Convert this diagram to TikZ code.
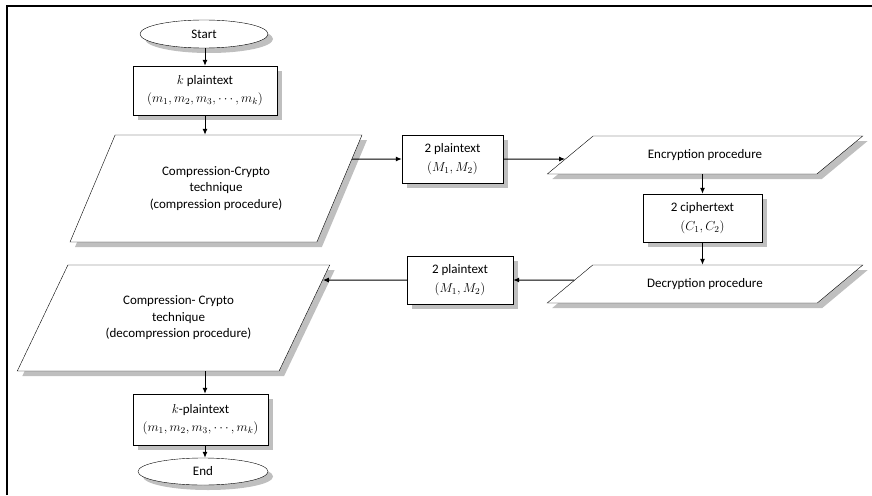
\RequirePackage{fix-cm}
\documentclass[tikz,border=0pt]{standalone}
\usepackage{fontspec}
\setmainfont{Carlito}
\usetikzlibrary{shapes.geometric,shadows,arrows.meta}
\begin{document}
\begin{tikzpicture}[x=1pt,y=-1pt,
  font=\fontsize{13}{16.5}\selectfont,
  shad/.style={drop shadow={shadow xshift=5pt,shadow yshift=-5pt,fill=black!25,opacity=1}},
  term/.style={ellipse,draw,fill=white,shad,inner sep=0pt},
  datbox/.style={rectangle,draw,fill=white,shad,align=center,inner sep=0pt},
  proc/.style={trapezium,trapezium stretches=true,draw,fill=white,shad,align=center,inner sep=0pt},
  arr/.style={-{Latex[length=6pt,width=5pt]},line width=1pt}]
\useasboundingbox (0,0) rectangle (872,495);
% page frame
\draw[line width=2pt] (7,495) -- (7,6) -- (872,6);

% left column: compression
\node[term, minimum width=128pt, minimum height=28pt] (start) at (204,34) {Start};
\node[datbox, minimum width=144pt, minimum height=49pt] (kpt) at (205,90.5)
  {$k$ plaintext\\[2pt]$(m_1,m_2,m_3,\cdots,m_k)$};
\node[proc, trapezium left angle=56.1, trapezium right angle=123.9,
  minimum width=292pt, minimum height=107pt] (comp) at (216,188.5)
  {Compression-Crypto\\technique\\(compression procedure)};

% middle and right: encryption / decryption
\node[datbox, minimum width=101pt, minimum height=48pt] (pta) at (452.5,159)
  {2 plaintext\\[2pt]$(M_1,M_2)$};
\node[proc, trapezium left angle=25.4, trapezium right angle=154.6,
  minimum width=316pt, minimum height=38pt] (enc) at (705,155)
  {Encryption procedure};
\node[datbox, minimum width=119pt, minimum height=48pt] (ct) at (702.5,218)
  {2 ciphertext\\[2pt]$(C_1,C_2)$};
\node[proc, trapezium left angle=25.4, trapezium right angle=154.6,
  minimum width=316pt, minimum height=38pt] (dec) at (705,284)
  {Decryption procedure};
\node[datbox, minimum width=106pt, minimum height=48pt] (ptb) at (460,280)
  {2 plaintext\\[2pt]$(M_1,M_2)$};

% left column: decompression (its text block sits a little right of centre)
\node[proc, trapezium left angle=53, trapezium right angle=127,
  minimum width=313pt, minimum height=106pt] (decomp) at (173.5,318)
  {\hspace*{10pt}\begin{tabular}{@{}c@{}}Compression- Crypto\\technique\\(decompression procedure)\end{tabular}};
\node[datbox, minimum width=135pt, minimum height=51pt] (kptb) at (200.5,419.5)
  {$k$-plaintext\\[2pt]$(m_1,m_2,m_3,\cdots,m_k)$};
\node[term, minimum width=130pt, minimum height=27pt] (end) at (203,471.5) {End};

% connectors
\draw[arr] (start.south -| 205,0) -- (kpt.north -| 205,0);
\draw[arr] (kpt.south -| 205,0) -- (comp.north -| 205,0);
\draw[arr] (intersection of comp.top right corner--comp.bottom right corner and pta.west--pta.east) -- (pta.west);
\draw[arr] (pta.east) -- (intersection of enc.top left corner--enc.bottom left corner and pta.west--pta.east);
\draw[arr] (enc.south -| ct.north) -- (ct.north);
\draw[arr] (ct.south) -- (dec.north -| ct.south);
\draw[arr] (intersection of dec.top left corner--dec.bottom left corner and ptb.west--ptb.east) -- (ptb.east);
\draw[arr] (ptb.west) -- (intersection of decomp.top right corner--decomp.bottom right corner and ptb.west--ptb.east);
\draw[arr] (decomp.south -| 205,0) -- (kptb.north -| 205,0);
\draw[arr] (kptb.south -| 205,0) -- (end.north -| 205,0);
\end{tikzpicture}
\end{document}
